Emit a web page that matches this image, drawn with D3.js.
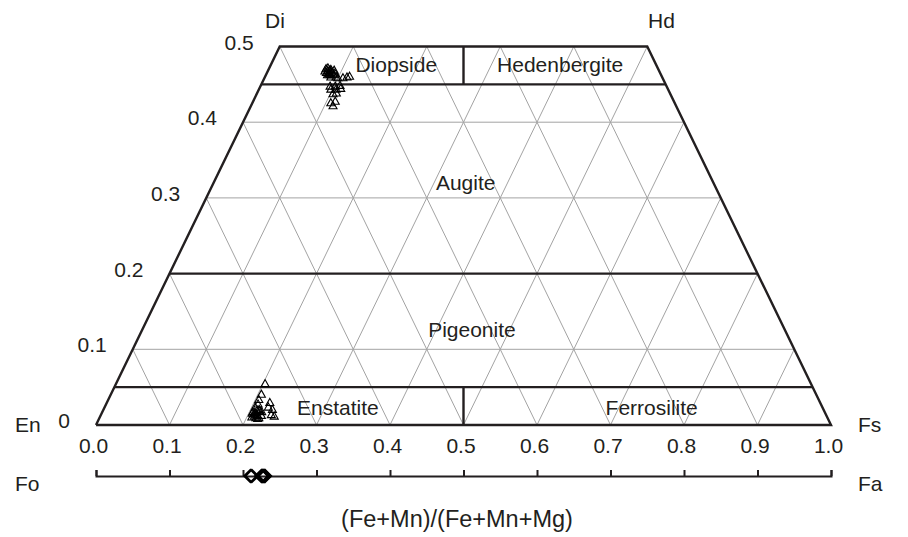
<!DOCTYPE html>
<html>
<head>
<meta charset="utf-8">
<script src="https://cdn.jsdelivr.net/npm/d3@7"></script>
<style>
  html, body { margin: 0; padding: 0; background: #fff; }
  svg text { font-family: "Liberation Sans", Arial, Helvetica, sans-serif; fill: #231f20; }
</style>
</head>
<body>
<svg id="chart" width="908" height="537"></svg>
<script>
// Pyroxene quadrilateral (Di–Hd–En–Fs) with an olivine Fo–Fa scale underneath.

// Clinopyroxene analyses: Wo fraction and Fs fraction
const cpxWo = [0.470, 0.467, 0.468, 0.466, 0.463, 0.462, 0.462, 0.464, 0.459, 0.459, 0.458, 0.458, 0.459, 0.460,
               0.447, 0.447, 0.448, 0.443, 0.443, 0.444, 0.437, 0.438, 0.425, 0.427, 0.421,
               0.467, 0.468, 0.464, 0.471, 0.465, 0.462, 0.469];
const cpxFs = [0.078, 0.082, 0.084, 0.088, 0.086, 0.084, 0.092, 0.093, 0.090, 0.097, 0.100, 0.107, 0.112, 0.115,
               0.095, 0.102, 0.108, 0.098, 0.105, 0.111, 0.104, 0.108, 0.107, 0.112, 0.112,
               0.078, 0.090, 0.086, 0.080, 0.081, 0.088, 0.085];

// Orthopyroxene analyses: Wo fraction and Fs fraction
const opxWo = [0.054, 0.040, 0.033, 0.027, 0.023, 0.020, 0.017, 0.017, 0.013, 0.011, 0.012, 0.009,
               0.029, 0.023, 0.020, 0.013, 0.011, 0.015, 0.008, 0.014, 0.010, 0.016, 0.009, 0.019,
               0.012, 0.018];
const opxFs = [0.203, 0.205, 0.205, 0.207, 0.205, 0.212, 0.205, 0.217, 0.212, 0.210, 0.219, 0.213,
               0.222, 0.223, 0.230, 0.232, 0.237, 0.205, 0.216, 0.208, 0.207, 0.208, 0.217, 0.210,
               0.214, 0.214];

// Olivine analyses: Fa fraction
const olFa = [0.210, 0.212, 0.225, 0.226, 0.227, 0.228, 0.229, 0.230];

// Axis tick values and text
const fracTicks = [0, 0.1, 0.2, 0.3, 0.4, 0.5, 0.6, 0.7, 0.8, 0.9, 1.0];
const woTicks = [0, 0.1, 0.2, 0.3, 0.4, 0.5];
const woTickText = ["0", "0.1", "0.2", "0.3", "0.4", "0.5"];
const gridWo = [0.1, 0.3, 0.4];          // thin horizontal guides
const fieldWo = [0.05, 0.2, 0.45];       // field boundaries
const gridFrac = [0.1, 0.2, 0.3, 0.4, 0.5, 0.6, 0.7, 0.8, 0.9];

// Field names and their (Wo, Fs) anchor
const fieldNames = ["Diopside", "Hedenbergite", "Augite", "Pigeonite", "Enstatite", "Ferrosilite"];
const fieldWoPos = [0.475, 0.475, 0.32, 0.125, 0.022, 0.022];
const fieldFsPos = [0.171, 0.394, 0.343, 0.449, 0.318, 0.745];

const axisTitle = "(Fe+Mn)/(Fe+Mn+Mg)";

const svg = d3.select("#chart");
const ink = "#231f20";

const x = d3.scaleLinear().domain([0, 1]).range([96, 831]);
const y = d3.scaleLinear().domain([0, 0.5]).range([425, 46.5]);

// ternary projection: Wo raises the point, shifting it half a unit right
const px = (wo, fs) => x(fs + wo / 2);
const py = (wo) => y(wo);
const line = d3.line().x(d => px(d[0], d[1])).y(d => py(d[0]));

// left edge (Fs = 0) at a given Wo
const leftX = wo => px(wo, 0);

const grid = svg.append("g").attr("fill", "none").attr("stroke", "#a3a3a3").attr("stroke-width", 1);

// horizontal Wo guides
grid.selectAll("path.h").data(gridWo).join("path")
  .attr("d", w => line([[w, 0], [w, 1 - w]]));

// constant-Fs guides
grid.selectAll("path.fs").data(gridFrac).join("path")
  .attr("d", f => { const wTop = Math.min(0.5, 1 - f); return line([[0, f], [wTop, f]]); });

// constant-En guides
grid.selectAll("path.en").data(gridFrac).join("path")
  .attr("d", e => { const wTop = Math.min(0.5, 1 - e); return line([[0, 1 - e], [wTop, 1 - e - wTop]]); });

const frame = svg.append("g").attr("fill", "none").attr("stroke", ink).attr("stroke-width", 2.4);

// outline of the quadrilateral
frame.append("path")
  .attr("d", line([[0, 0], [0.5, 0], [0.5, 0.5], [0, 1], [0, 0]]))
  .attr("stroke-linejoin", "miter");

// field boundaries
frame.selectAll("path.f").data(fieldWo).join("path")
  .attr("d", w => line([[w, 0], [w, 1 - w]]));

// Di/Hd and En/Fs divides at Fs/(Fs+En) = 0.5
frame.append("path").attr("d", `M${x(0.5)},${y(0.45)}V${y(0.5)}`);
frame.append("path").attr("d", `M${x(0.5)},${y(0)}V${y(0.05)}`);

// bottom fraction labels
const bottomAxis = d3.axisBottom(x).tickValues(fracTicks).tickSize(0).tickPadding(0)
  .tickFormat(d3.format(".1f"));
const bAx = svg.append("g").attr("transform", `translate(0,${y(0)})`).call(bottomAxis);
bAx.select(".domain").remove();
bAx.selectAll("text").attr("dy", null).attr("y", 28).attr("x", -3)
  .style("font-size", "21px").attr("fill", ink);

// Wo labels on the left edge
svg.append("g").selectAll("text").data(woTicks).join("text")
  .attr("x", w => leftX(w) - 26)
  .attr("y", w => y(w) + 3)
  .attr("text-anchor", "end")
  .style("font-size", "21px")
  .text((w, i) => woTickText[i]);

// olivine Fo–Fa scale
const olY = 476;
const olAxis = d3.axisTop(x).tickValues(fracTicks).tickSizeInner(6).tickSizeOuter(6).tickFormat("");
const oAx = svg.append("g").attr("transform", `translate(0,${olY})`).call(olAxis);
oAx.select(".domain").attr("stroke", ink).attr("stroke-width", 2);
oAx.selectAll(".tick line").attr("stroke", ink).attr("stroke-width", 2);

// end-member names
const endLabels = [
  { t: "Di", x: 265, y: 28 },
  { t: "Hd", x: 648, y: 28 },
  { t: "En", x: 15, y: 432 },
  { t: "Fs", x: 858, y: 432 },
  { t: "Fo", x: 15, y: 491 },
  { t: "Fa", x: 858, y: 491 }
];
svg.append("g").selectAll("text").data(endLabels).join("text")
  .attr("x", d => d.x).attr("y", d => d.y)
  .style("font-size", "21px").text(d => d.t);

// field names
svg.append("g").selectAll("text").data(fieldNames).join("text")
  .attr("x", (d, i) => px(fieldWoPos[i], fieldFsPos[i]))
  .attr("y", (d, i) => py(fieldWoPos[i]) + 7)
  .attr("text-anchor", "middle")
  .style("font-size", "21px")
  .text(d => d);

// pyroxene analyses as open triangles
const tri = "M0,-4.6L4,2.5L-4,2.5Z";
const pts = svg.append("g").attr("fill", "none").attr("stroke", "#000").attr("stroke-width", 1.1);
pts.selectAll("path.cpx").data(cpxWo).join("path")
  .attr("d", tri)
  .attr("transform", (w, i) => `translate(${px(w, cpxFs[i])},${py(w)})`);
pts.selectAll("path.opx").data(opxWo).join("path")
  .attr("d", tri)
  .attr("transform", (w, i) => `translate(${px(w, opxFs[i])},${py(w)})`);

// olivine analyses as open diamonds
const diamond = "M0,-6.3L6.3,0L0,6.3L-6.3,0Z";
svg.append("g").attr("fill", "none").attr("stroke", "#000").attr("stroke-width", 1.8)
  .selectAll("path").data(olFa).join("path")
  .attr("d", diamond)
  .attr("transform", f => `translate(${x(f)},${olY})`);

// axis title
svg.append("text")
  .attr("x", 457).attr("y", 527)
  .attr("text-anchor", "middle")
  .style("font-size", "23.5px")
  .text(axisTitle);
</script>
</body>
</html>
